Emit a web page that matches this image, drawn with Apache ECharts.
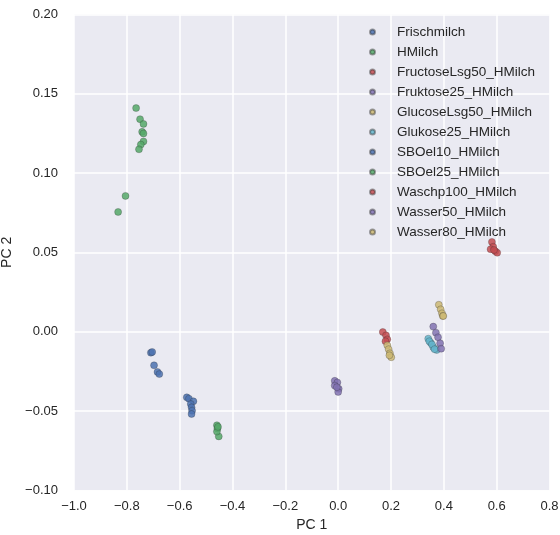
<!DOCTYPE html>
<html>
<head>
<meta charset="utf-8">
<script src="https://cdn.jsdelivr.net/npm/echarts@6/dist/echarts.min.js"></script>
<style>
html,body{margin:0;padding:0;background:#fff;}
#chart{width:560px;height:535px;}
</style>
</head>
<body>
<div id="chart"></div>
<script>
// Category names (legend order)
const seriesNames = ["Frischmilch","HMilch","FructoseLsg50_HMilch","Fruktose25_HMilch","GlucoseLsg50_HMilch","Glukose25_HMilch","SBOel10_HMilch","SBOel25_HMilch","Waschp100_HMilch","Wasser50_HMilch","Wasser80_HMilch"];
const seriesColors = ["#4C72B0","#55A868","#C44E52","#8172B2","#CCB974","#64B5CD","#4C72B0","#55A868","#C44E52","#8172B2","#CCB974"];

// [PC1, PC2] per group
const frischmilch = [[-0.709,-0.0132],[-0.704,-0.0128],[-0.697,-0.0212],[-0.684,-0.0254],[-0.677,-0.0267]];
const hmilch = [[-0.765,0.141],[-0.750,0.134],[-0.737,0.131],[-0.742,0.126],[-0.737,0.125],[-0.737,0.120],[-0.747,0.118],[-0.754,0.115],[-0.805,0.0856],[-0.833,0.0755]];
const fructoseLsg50 = [[0.169,-0.0002],[0.181,-0.0023],[0.186,-0.0048],[0.179,-0.006]];
const fruktose25 = [[-0.013,-0.031],[-0.003,-0.032],[-0.013,-0.034],[0.002,-0.036],[0.0,-0.038],[-0.005,-0.035]];
const glucoseLsg50 = [[0.186,-0.0086],[0.191,-0.011],[0.196,-0.0136],[0.201,-0.0161],[0.194,-0.0149]];
const glukose25 = [[0.341,-0.0044],[0.350,-0.0069],[0.360,-0.0098],[0.373,-0.0115],[0.345,-0.006],[0.355,-0.008],[0.365,-0.011]];
const sboel10 = [[-0.573,-0.0414],[-0.565,-0.0422],[-0.548,-0.0439],[-0.558,-0.0456],[-0.555,-0.0477],[-0.553,-0.0498],[-0.555,-0.0519]];
const sboel25 = [[-0.459,-0.059],[-0.457,-0.061],[-0.452,-0.066],[-0.459,-0.063],[-0.455,-0.060]];
const waschp100 = [[0.582,0.0566],[0.587,0.0536],[0.577,0.052],[0.595,0.0507],[0.602,0.0498],[0.590,0.0515]];
const wasser50 = [[0.360,0.0032],[0.370,-0.0006],[0.378,-0.0035],[0.386,-0.0073],[0.390,-0.0107]];
const wasser80 = [[0.381,0.017],[0.388,0.0141],[0.393,0.0116],[0.396,0.0099],[0.398,0.0099]];

const groups = [frischmilch,hmilch,fructoseLsg50,fruktose25,glucoseLsg50,glukose25,sboel10,sboel25,waschp100,wasser50,wasser80];

const textColor = "#262626";
const fontFamily = "Liberation Sans, Arial, sans-serif";
const minus = s => String(s).replace('-', '\u2212');

const chart = echarts.init(document.getElementById('chart'), null, {renderer:'canvas'});
chart.setOption({
  animation:false,
  backgroundColor:'#ffffff',
  grid:{left:74, right:10.5, top:14.5, bottom:44.7, show:true, backgroundColor:'#EAEAF2', borderWidth:0, containLabel:false, outerBoundsMode:'none'},
  legend:{
    orient:'vertical', left:364, top:19,
    icon:'circle', itemWidth:5, itemHeight:5, itemGap:4,
    textStyle:{color:textColor, fontSize:13.5, fontFamily:fontFamily, lineHeight:16, padding:[0,0,0,17]},
    data:seriesNames
  },
  xAxis:{
    type:'value', min:-1.0, max:0.8, interval:0.2,
    name:'PC 1', nameLocation:'middle', nameGap:24,
    nameTextStyle:{color:textColor, fontSize:14, fontFamily:fontFamily},
    axisLine:{show:false}, axisTick:{show:false},
    axisLabel:{color:textColor, fontSize:13, fontFamily:fontFamily, margin:10, formatter:v=>minus(v.toFixed(1))},
    splitLine:{show:true, lineStyle:{color:'#ffffff', width:1.5}}
  },
  yAxis:{
    type:'value', min:-0.10, max:0.20, interval:0.05,
    name:'PC 2', nameLocation:'middle', nameGap:38, nameRotate:90,
    nameTextStyle:{color:textColor, fontSize:14, fontFamily:fontFamily},
    axisLine:{show:false}, axisTick:{show:false},
    axisLabel:{color:textColor, fontSize:13, fontFamily:fontFamily, margin:16, formatter:v=>minus(v.toFixed(2))},
    splitLine:{show:true, lineStyle:{color:'#ffffff', width:1.5}}
  },
  series: groups.map((g,i)=>({
    name:seriesNames[i], type:'scatter', data:g, symbolSize:7,
    itemStyle:{color:seriesColors[i], opacity:0.85, borderColor:'rgba(40,40,40,0.5)', borderWidth:0.6}
  }))
});
</script>
</body>
</html>
